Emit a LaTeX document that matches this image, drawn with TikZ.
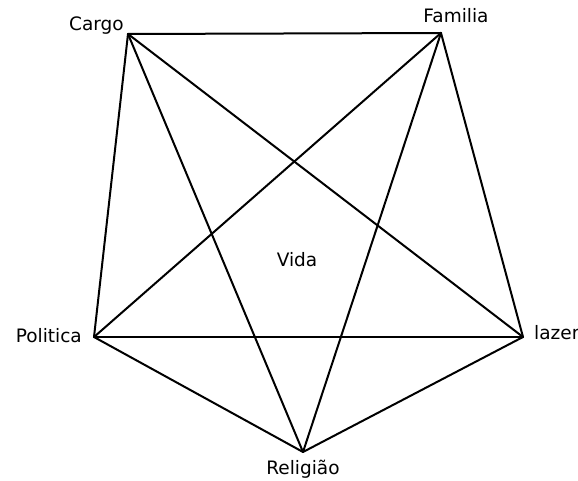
\documentclass[tikz,border=0pt]{standalone}
\usepackage{fontspec}
\setmainfont{DejaVu Sans}
\usepackage{tikz}
\usepackage{tkz-euclide}

\begin{document}
\begin{tikzpicture}[x=1pt, y=1pt,
        lbl/.style={inner sep=0pt, font=\fontsize{18.5pt}{20pt}\selectfont}]
                \useasboundingbox (0,0) rectangle (578,480);
                \tkzDefPoints{128/446/C, 441/447/F, 94/143/P, 523/143/L, 303/28/R}
                \tkzDrawSegments[black, line width=2pt](C,F F,L L,P P,C C,R R,F C,L F,P P,R R,L)
                \tkzLabelPoint[lbl, name=cargo, anchor=base east, xshift=-4pt, yshift=3pt](C){Cargo}
                \tkzLabelPoint[lbl, name=familia, anchor=base, xshift=15pt, yshift=10pt](F){Familia}
                \tkzLabelPoint[lbl, name=politica, anchor=base east, xshift=-12pt, yshift=-5pt](P){Politica}
                \tkzLabelPoint[lbl, name=lazer, anchor=base west, xshift=11pt, yshift=-2pt](L){lazer}
                \tkzLabelPoint[lbl, name=religiao, anchor=base, yshift=-22pt](R){Religião}
                \node[lbl, anchor=base] (vida) at (297,214) {Vida};
            \end{tikzpicture}
\end{document}
